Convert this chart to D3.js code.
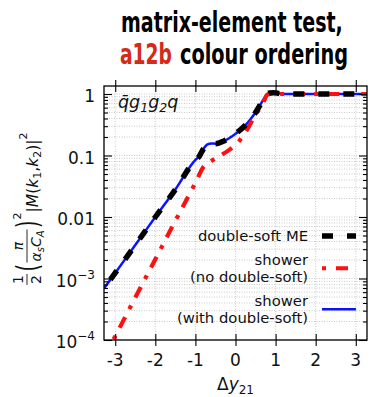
<!DOCTYPE html>
<html><head><meta charset="utf-8">
<script src="https://cdn.jsdelivr.net/npm/d3@7"></script>
<style>body{margin:0;background:#fff}svg{display:block}</style>
</head><body>
<svg id="chart" width="371" height="397"></svg>
<script>
// ---------- data ----------
const xTicks = [-3, -2, -1, 0, 1, 2, 3];
const xTickLabels = ["-3", "-2", "-1", "0", "1", "2", "3"];
const yTicks = [1e-4, 1e-3, 1e-2, 1e-1, 1];
const yTickBase = ["10", "10", "0.01", "0.1", "1"];
const yTickExp = ["\u22124", "\u22123", "", "", ""];

const dyME = [-3.12, -3.0, -2.5, -2.0, -1.5, -1.0, -0.9, -0.8, -0.7, -0.6, -0.5, -0.4, -0.3, -0.2, -0.1, 0.0, 0.1, 0.2, 0.3, 0.4, 0.5, 0.6, 0.7, 0.78, 0.85, 0.95, 1.1, 1.3, 2.0, 2.5, 3.0, 3.28];
const valME = [9.6e-4, 1.23e-3, 3.5e-3, 0.0100, 0.028, 0.085, 0.098, 0.128, 0.152, 0.157, 0.156, 0.161, 0.171, 0.184, 0.203, 0.225, 0.255, 0.29, 0.34, 0.41, 0.50, 0.64, 0.82, 0.98, 1.04, 1.05, 1.02, 1.0, 1.0, 1.0, 1.0, 1.0];

const dyNoDS = [-3.28, -3.0, -2.5, -2.0, -1.5, -1.0, -0.8, -0.6, -0.4, -0.2, 0.0, 0.1, 0.2, 0.3, 0.4, 0.5, 0.6, 0.7, 0.8, 0.9, 1.0, 1.5, 2.0, 2.5, 3.0, 3.28];
const valNoDS = [5.1e-5, 1.15e-4, 4.9e-4, 2.05e-3, 8.7e-3, 0.036, 0.065, 0.082, 0.098, 0.118, 0.15, 0.175, 0.215, 0.27, 0.355, 0.46, 0.58, 0.75, 0.98, 1.01, 1.0, 1.0, 1.0, 1.0, 1.0, 1.0];

const dyWithDS = [-3.28, -3.0, -2.5, -2.0, -1.5, -1.0, -0.9, -0.8, -0.7, -0.6, -0.5, -0.4, -0.3, -0.2, -0.1, 0.0, 0.1, 0.2, 0.3, 0.4, 0.5, 0.6, 0.7, 0.78, 0.85, 0.95, 1.1, 1.3, 2.0, 2.5, 3.0, 3.28];
const valWithDS = [6.9e-4, 1.23e-3, 3.5e-3, 0.0100, 0.028, 0.085, 0.098, 0.128, 0.152, 0.157, 0.156, 0.161, 0.171, 0.184, 0.203, 0.225, 0.255, 0.29, 0.34, 0.41, 0.50, 0.64, 0.82, 0.98, 1.04, 1.05, 1.02, 1.0, 1.0, 1.0, 1.0, 1.0];

const legendLabels = [["double-soft ME"], ["shower", "(no double-soft)"], ["shower", "(with double-soft)"]];
const titleLine1 = "matrix-element test,";
const titleRed = "a12b";
const titleRest = "colour ordering";

// ---------- layout ----------
const L = 104, R = 367, T = 86, B = 340;
const svg = d3.select("#chart");
const x = d3.scaleLinear().domain([-3.28, 3.28]).range([L, R]);
const y = d3.scaleLog().domain([1e-4, 1.35]).range([B, T]);
const FONT = "DejaVu Sans, Verdana, sans-serif";

// minor y values
const yMinor = [];
for (let d = -4; d <= 0; d++) for (let k = 2; k <= 9; k++) {
  const v = k * Math.pow(10, d);
  if (v <= 1.35) yMinor.push(v);
}

// ---------- grid ----------
const grid = svg.append("g").attr("stroke", "#bdbdbd").attr("stroke-width", 0.8).attr("stroke-dasharray", "1,1.5");
grid.selectAll(".gx").data(xTicks).join("line")
  .attr("x1", d => x(d)).attr("x2", d => x(d)).attr("y1", T).attr("y2", B);
grid.selectAll(".gy").data(yTicks.concat(yMinor)).join("line")
  .attr("y1", d => y(d)).attr("y2", d => y(d)).attr("x1", L).attr("x2", R);

// ---------- curves ----------
svg.append("clipPath").attr("id", "clip").append("rect")
  .attr("x", L).attr("y", T).attr("width", R - L).attr("height", B - T);
const line = d3.line().x(d => x(d[0])).y(d => y(d[1])).curve(d3.curveMonotoneX);
const plot = svg.append("g").attr("clip-path", "url(#clip)").attr("fill", "none");
plot.append("path").attr("d", line(d3.zip(dyWithDS, valWithDS)))
  .attr("stroke", "#0a14ff").attr("stroke-width", 2.5);
plot.append("path").attr("d", line(d3.zip(dyNoDS, valNoDS)))
  .attr("stroke", "#ff1010").attr("stroke-width", 4.2).attr("stroke-dasharray", "12,9,4,9");
plot.append("path").attr("d", line(d3.zip(dyME, valME)))
  .attr("stroke", "#000").attr("stroke-width", 5.5).attr("stroke-dasharray", "11,14");

// ---------- axes / ticks ----------
function styleAxis(g) { g.select(".domain").remove(); g.selectAll("line").attr("stroke", "#000").attr("stroke-width", 1.1); }
svg.append("g").attr("transform", `translate(0,${B})`)
  .call(d3.axisBottom(x).tickValues(xTicks).tickSize(6).tickFormat("")).call(styleAxis);
svg.append("g").attr("transform", `translate(0,${B})`)
  .call(d3.axisBottom(x).tickValues(xTicks).tickSize(-6).tickFormat("")).call(styleAxis);
svg.append("g").attr("transform", `translate(0,${T})`)
  .call(d3.axisTop(x).tickValues(xTicks).tickSize(6).tickFormat("")).call(styleAxis);
svg.append("g").attr("transform", `translate(0,${T})`)
  .call(d3.axisTop(x).tickValues(xTicks).tickSize(-6).tickFormat("")).call(styleAxis);
svg.append("g").attr("transform", `translate(${L},0)`)
  .call(d3.axisLeft(y).tickValues(yTicks).tickSize(-8).tickFormat("")).call(styleAxis);
svg.append("g").attr("transform", `translate(${L},0)`)
  .call(d3.axisLeft(y).tickValues(yMinor).tickSize(-4).tickFormat("")).call(styleAxis);
svg.append("g").attr("transform", `translate(${R},0)`)
  .call(d3.axisRight(y).tickValues(yTicks).tickSize(-8).tickFormat("")).call(styleAxis);
svg.append("g").attr("transform", `translate(${R},0)`)
  .call(d3.axisRight(y).tickValues(yMinor).tickSize(-4).tickFormat("")).call(styleAxis);

svg.append("rect").attr("x", L).attr("y", T).attr("width", R - L).attr("height", B - T)
  .attr("fill", "none").attr("stroke", "#000").attr("stroke-width", 1.3);

// tick labels
svg.append("g").selectAll("text").data(xTicks).join("text")
  .attr("x", d => x(d)).attr("y", B + 26).attr("text-anchor", "middle")
  .attr("font-family", FONT).attr("font-size", 17).attr("fill", "#111")
  .text((d, i) => xTickLabels[i]);
const yl = svg.append("g").selectAll("text").data(yTicks).join("text")
  .attr("x", L - 9).attr("y", d => y(d) + 8).attr("text-anchor", "end")
  .attr("font-family", FONT).attr("font-size", 17).attr("fill", "#111");
yl.append("tspan").text((d, i) => yTickBase[i]);
yl.append("tspan").attr("font-size", 12).attr("dy", -8).text((d, i) => yTickExp[i]);

// ---------- x label ----------
const xl = svg.append("text").attr("x", (L + R) / 2).attr("y", 390).attr("text-anchor", "middle")
  .attr("font-family", FONT).attr("font-size", 17).attr("fill", "#111");
xl.append("tspan").text("\u0394");
xl.append("tspan").attr("font-style", "italic").text("y");
xl.append("tspan").attr("font-size", 12).attr("dy", 4).text("21");

// ---------- annotation ----------
const an = svg.append("text").attr("x", 118).attr("y", 108)
  .attr("font-family", FONT).attr("font-size", 17.5).attr("font-style", "italic").attr("fill", "#111");
an.append("tspan").text("q\u0304g");
an.append("tspan").attr("font-size", 12.5).attr("dy", 4).text("1");
an.append("tspan").attr("dy", -4).text("g");
an.append("tspan").attr("font-size", 12.5).attr("dy", 4).text("2");
an.append("tspan").attr("dy", -4).text("q");

// ---------- y label (math) ----------
const yg = svg.append("g").attr("transform", "translate(38,209) rotate(-90)");
const inner = yg.append("g");
let cx = 0;
function run(g, x0, yb, segs) {
  let c = x0;
  segs.forEach(s => {
    const t = g.append("text").attr("x", c).attr("y", yb + (s.dy || 0))
      .attr("font-family", FONT).attr("font-size", s.size || 14)
      .attr("font-style", s.it ? "italic" : "normal").attr("fill", "#111").text(s.t);
    c += t.node().getComputedTextLength();
  });
  return c - x0;
}
function measure(segs) {
  const tmp = svg.append("g").attr("opacity", 0);
  const w = run(tmp, 0, 0, segs); tmp.remove(); return w;
}
function frac(num, den) {
  const wn = measure(num), wd = measure(den), w = Math.max(wn, wd) + 3;
  run(inner, cx + (w - wn) / 2, -15, num);
  run(inner, cx + (w - wd) / 2, 3, den);
  inner.append("line").attr("x1", cx + 0.5).attr("x2", cx + w - 0.5).attr("y1", -11).attr("y2", -11)
    .attr("stroke", "#111").attr("stroke-width", 0.9);
  cx += w + 1;
}
function paren(ch) {
  const t = inner.append("text").attr("transform", `translate(${cx},0) scale(0.62,1)`)
    .attr("font-family", FONT).attr("font-size", 31).attr("fill", "#111").text(ch);
  cx += t.node().getComputedTextLength() * 0.62 + 1;
}
frac([{t: "1"}], [{t: "2"}]);
cx += 1;
paren("(");
frac([{t: "\u03c0", it: true}], [{t: "\u03b1", it: true}, {t: "s", size: 10, dy: 3, it: true}, {t: "C", it: true}, {t: "A", size: 10, dy: 3, it: true}]);
paren(")");
cx += run(inner, cx, -17, [{t: "2", size: 11}]);
cx += run(inner, cx, 0, [{t: "|", size: 15.5}, {t: "M", size: 15.5, it: true}, {t: "(", size: 15.5}, {t: "k", size: 15.5, it: true},
  {t: "1", size: 11, dy: 3}, {t: ", ", size: 15.5}, {t: "k", size: 15.5, it: true}, {t: "2", size: 11, dy: 3},
  {t: ")", size: 15.5}, {t: "|", size: 15.5}, {t: "2", size: 11, dy: -11}]);
inner.attr("transform", `translate(${-cx / 2},0)`);

// ---------- legend ----------
const lgX = 308, hx1 = 322, hx2 = 356;
const lgStyles = [
  {stroke: "#000", w: 5.5, dash: "11,14"},
  {stroke: "#ff1010", w: 4.2, dash: "4,10,12,9"},
  {stroke: "#0a14ff", w: 2.5, dash: null}
];
const lgTop = [241, 265, 306];
const lgLine = 16.5;
legendLabels.forEach((lines, i) => {
  lines.forEach((s, j) => {
    svg.append("text").attr("x", lgX).attr("y", lgTop[i] + j * lgLine).attr("text-anchor", "end")
      .attr("font-family", FONT).attr("font-size", 14.8).attr("fill", "#111").text(s);
  });
  const hy = lgTop[i] - 5 + (lines.length - 1) * lgLine / 2;
  const ln = svg.append("line").attr("x1", hx1).attr("x2", hx2).attr("y1", hy).attr("y2", hy)
    .attr("stroke", lgStyles[i].stroke).attr("stroke-width", lgStyles[i].w);
  if (lgStyles[i].dash) ln.attr("stroke-dasharray", lgStyles[i].dash);
});

// ---------- title (scaled horizontally to the reference widths) ----------
const TF = "'Liberation Sans Narrow', 'DejaVu Sans Condensed', 'Roboto', sans-serif";
function titleText(str, x0, yb, targetW, color) {
  const t = svg.append("text").attr("font-family", TF).attr("font-weight", "bold")
    .attr("font-size", 28).attr("fill", color).text(str);
  const w = t.node().getComputedTextLength();
  t.attr("transform", `translate(${x0},${yb}) scale(${targetW / w},1)`);
}
titleText(titleLine1, 121, 32, 222, "#000");
titleText(titleRed, 120, 64, 52, "#d42a16");
titleText(titleRest, 180, 64, 168, "#000");
</script>
</body></html>
